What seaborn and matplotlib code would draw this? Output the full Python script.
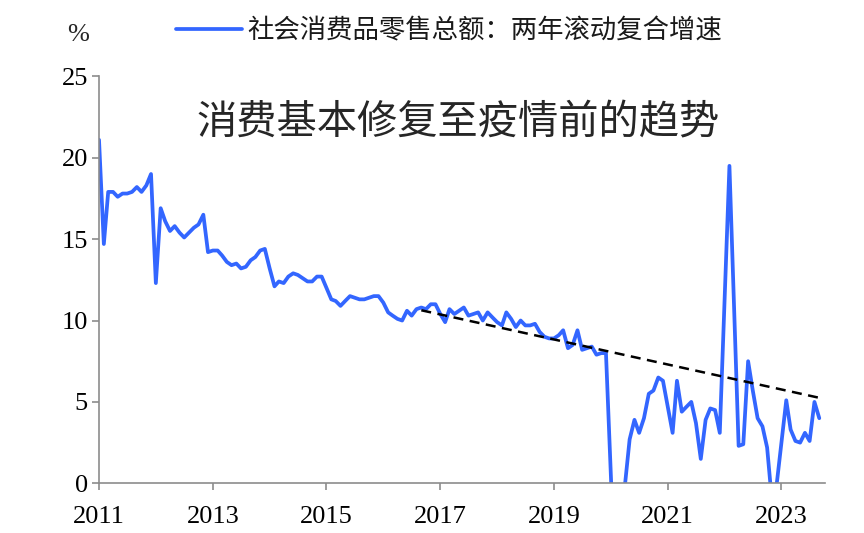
import pandas as pd
import numpy as np
import matplotlib.pyplot as plt
import seaborn as sns

# 社会消费品零售总额 两年滚动复合增速 (%)
sales_2011 = [21.1, 14.7, 17.9, 17.9, 17.6, 17.8, 17.8, 17.9, 18.2, 17.9, 18.3, 19.0]
sales_2012 = [12.3, 16.9, 16.1, 15.5, 15.8, 15.4, 15.1, 15.4, 15.7, 15.9, 16.5, 14.2]
sales_2013 = [14.3, 14.3, 14.0, 13.6, 13.4, 13.5, 13.2, 13.3, 13.7, 13.9, 14.3, 14.4]
sales_2014 = [13.2, 12.1, 12.4, 12.3, 12.7, 12.9, 12.8, 12.6, 12.4, 12.4, 12.7, 12.7]
sales_2015 = [12.0, 11.3, 11.2, 10.9, 11.2, 11.5, 11.4, 11.3, 11.3, 11.4, 11.5, 11.5]
sales_2016 = [11.1, 10.5, 10.3, 10.1, 10.0, 10.6, 10.3, 10.7, 10.8, 10.7, 11.0, 11.0]
sales_2017 = [10.4, 9.9, 10.7, 10.4, 10.6, 10.8, 10.3, 10.4, 10.5, 10.0, 10.5, 10.2]
sales_2018 = [9.9, 9.7, 10.5, 10.1, 9.6, 10.0, 9.7, 9.7, 9.8, 9.3, 9.0, 8.9]
sales_2019 = [8.9, 9.1, 9.4, 8.3, 8.5, 9.4, 8.2, 8.3, 8.4, 7.9, 8.0, 8.0]

# from 2020 on January is not published separately (and 2022-03 is absent)
dates_2020_2023 = [
    '2020-02', '2020-03', '2020-04', '2020-05', '2020-06', '2020-07', '2020-08',
    '2020-09', '2020-10', '2020-11', '2020-12',
    '2021-02', '2021-03', '2021-04', '2021-05', '2021-06', '2021-07', '2021-08',
    '2021-09', '2021-10', '2021-11', '2021-12',
    '2022-02', '2022-04', '2022-05', '2022-06', '2022-07', '2022-08', '2022-09',
    '2022-10', '2022-11', '2022-12',
    '2023-02', '2023-03', '2023-04', '2023-05', '2023-06', '2023-07', '2023-08',
    '2023-09',
]
sales_2020_2023 = [
    -6.8, -4.3, -0.1, 2.7, 3.9, 3.1, 4.0, 5.5, 5.7, 6.5, 6.3,
    3.1, 6.3, 4.4, 4.7, 5.0, 3.7, 1.5, 3.9, 4.6, 4.5, 3.1,
    19.5, 2.3, 2.4, 7.5, 5.7, 4.0, 3.5, 2.2, -1.1, -0.1,
    5.1, 3.3, 2.6, 2.5, 3.1, 2.6, 5.0, 4.0,
]

# pre-pandemic trend line (dashed)
trend_dates = ['2016-09', '2023-10']
trend_values = [10.63, 5.19]

tick_years = [2011, 2013, 2015, 2017, 2019, 2021, 2023]

series_label = '社会消费品零售总额：两年滚动复合增速'
title_text = '消费基本修复至疫情前的趋势'

# build the frame
early_values = (sales_2011 + sales_2012 + sales_2013 + sales_2014 + sales_2015
                + sales_2016 + sales_2017 + sales_2018 + sales_2019)
early_dates = pd.date_range('2011-01-01', periods=len(early_values), freq='MS')
df = pd.DataFrame({
    'date': list(early_dates) + list(pd.to_datetime(dates_2020_2023)),
    'value': early_values + sales_2020_2023,
})
trend = pd.DataFrame({'date': pd.to_datetime(trend_dates), 'value': trend_values})

sns.set_theme(style='white')
plt.rcParams['font.family'] = ['Liberation Serif', 'Noto Sans CJK SC']
plt.rcParams['axes.unicode_minus'] = False

fig = plt.figure(figsize=(8.64, 5.33), dpi=100)
ax = fig.add_axes([0.1146, 0.0932, 0.8403, 0.7636])

sns.lineplot(data=df, x='date', y='value', ax=ax, color='#3366FF', lw=2.7,
             label=series_label)
sns.lineplot(data=trend, x='date', y='value', ax=ax, color='black', lw=1.8,
             linestyle=(0, (4, 2.6)))

ax.set_ylim(0, 25)
ax.set_yticks([0, 5, 10, 15, 20, 25])
ax.set_xlim(pd.Timestamp('2011-01-01'), pd.Timestamp('2023-10-08'))
ax.set_xticks([pd.Timestamp(f'{y}-01-01') for y in tick_years])
ax.set_xticklabels([str(y) for y in tick_years])
ax.set_xlabel('')
ax.set_ylabel('')

for side in ['top', 'right']:
    ax.spines[side].set_visible(False)
for side in ['left', 'bottom']:
    ax.spines[side].set_color('#8c8c8c')
    ax.spines[side].set_linewidth(1.2)

ax.tick_params(axis='both', bottom=True, left=True, direction='out', length=5,
               width=1.2, color='#8c8c8c', labelcolor='black', labelsize=19)
ax.tick_params(axis='x', pad=11)
ax.tick_params(axis='y', pad=3)

# legend on top
leg = ax.legend(loc='center left', bbox_to_anchor=(176 / 864, 1 - 31 / 533),
                bbox_transform=fig.transFigure, frameon=False, borderpad=0,
                borderaxespad=0, handlelength=2.5, handletextpad=0.2,
                prop={'family': 'Noto Sans CJK SC', 'size': 19})
for t in leg.get_texts():
    t.set_color('#1a1a1a')

fig.text(78 / 864, 1 - 35 / 533, '%', ha='center', va='center', fontsize=19,
         family='Liberation Serif')
fig.text(458 / 864, 1 - 123 / 533, title_text, ha='center', va='center',
         fontsize=29, family='Noto Sans CJK SC', color='#262626')

fig.savefig('out.png', dpi=100)
